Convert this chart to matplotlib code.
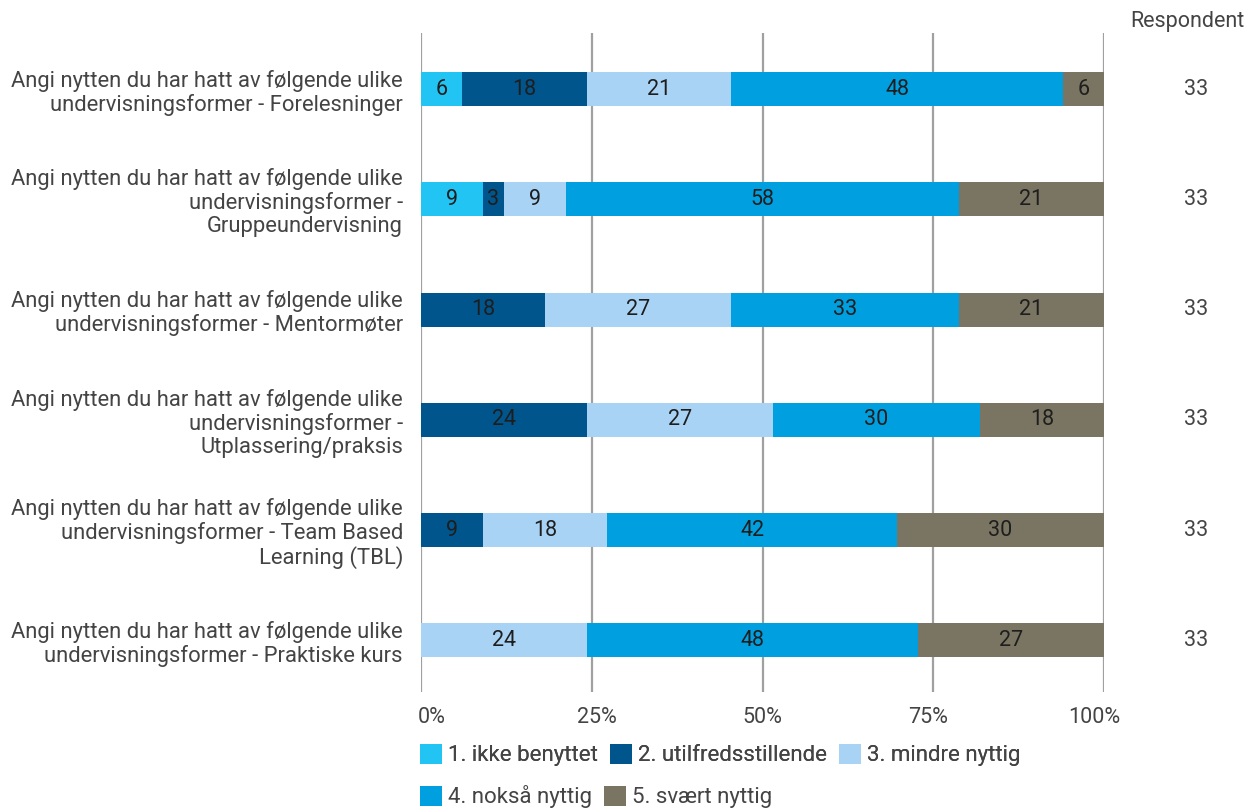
import numpy as np
import matplotlib.pyplot as plt
from matplotlib.patches import Patch

plt.rcParams['font.family'] = ['Roboto', 'DejaVu Sans']

######################################################
# DATI (antall svar av 33 per kategori)

questions = [
    'Angi nytten du har hatt av følgende ulike\nundervisningsformer - Forelesninger',
    'Angi nytten du har hatt av følgende ulike\nundervisningsformer -\nGruppeundervisning',
    'Angi nytten du har hatt av følgende ulike\nundervisningsformer - Mentormøter',
    'Angi nytten du har hatt av følgende ulike\nundervisningsformer -\nUtplassering/praksis',
    'Angi nytten du har hatt av følgende ulike\nundervisningsformer - Team Based\nLearning (TBL)',
    'Angi nytten du har hatt av følgende ulike\nundervisningsformer - Praktiske kurs',
]
categories = ['1. ikke benyttet', '2. utilfredsstillende', '3. mindre nyttig',
              '4. nokså nyttig', '5. svært nyttig']
ikke_benyttet = [2, 3, 0, 0, 0, 0]
utilfredsstillende = [6, 1, 6, 8, 3, 0]
mindre_nyttig = [7, 3, 9, 9, 6, 8]
noksaa_nyttig = [16, 19, 11, 10, 14, 16]
svaert_nyttig = [2, 7, 7, 6, 10, 9]
respondents = [33, 33, 33, 33, 33, 33]
ticks = [0, 25, 50, 75, 100]

colors = ['#22c4f4', '#00558c', '#a8d3f5', '#009fe0', '#7a7562']
FS = 15.5

######################################################
# GRAFICO

fig = plt.figure(figsize=(12.56, 8.11), dpi=100)
ax = fig.add_axes([421 / 1256, 1 - 692 / 811, 683 / 1256, 659 / 811])

series = [ikke_benyttet, utilfredsstillende, mindre_nyttig, noksaa_nyttig, svaert_nyttig]
totals = np.array(respondents, dtype=float)
y = np.arange(len(questions))
left = np.zeros(len(questions))

for vals, col, cat in zip(series, colors, categories):
    pct = np.array(vals) / totals * 100
    ax.barh(y, pct, left=left, height=0.31, color=col, label=cat, zorder=3)
    for yi, l, p in zip(y, left, pct):
        if p > 0:
            ax.text(l + p / 2, yi, f'{p:.0f}', ha='center', va='center',
                    fontsize=FS, color='#1e1e1e', zorder=4)
    left += pct

ax.set_xlim(0, 100)
ax.set_ylim(5.47, -0.51)
# etichette leggermente spostate verso l'interno come nell'originale
ax.set_xticks([1.5 + t * 0.97 for t in ticks])
ax.set_xticklabels([f'{t}%' for t in ticks])
ax.set_yticks(y)
ax.set_yticklabels(questions, fontsize=15.8, color='#444444', linespacing=1.12)
ax.tick_params(axis='x', length=0, pad=11, labelsize=FS, labelcolor='#444444')
ax.tick_params(axis='y', length=0, pad=13)
for t in ticks:
    ax.axvline(t, color='#a0a0a0', lw=1.6, zorder=1)
for s in ax.spines.values():
    s.set_visible(False)

# Colonna respondenti
fig.text(1187 / 1256, 1 - 22 / 811, 'Respondent', ha='center', va='center',
         fontsize=FS, color='#444444')
for yi, n in zip(y, respondents):
    ax.text(1.1347, yi, str(n), transform=ax.get_yaxis_transform(),
            ha='center', va='center', fontsize=FS, color='#444444')

# Legenda su due righe
handles = [Patch(facecolor=c, edgecolor='none') for c in colors]
leg_kw = dict(loc='center left', frameon=False, fontsize=16, handlelength=1.0,
              handleheight=1.0, handletextpad=0.25, columnspacing=0.55,
              labelcolor='#444444', borderaxespad=0, borderpad=0)
leg1 = fig.legend(handles[:3], categories[:3], ncol=3,
                  bbox_to_anchor=(420 / 1256, 1 - 755 / 811), **leg_kw)
fig.legend(handles[3:], categories[3:], ncol=2,
           bbox_to_anchor=(420 / 1256, 1 - 797 / 811), **leg_kw)
fig.add_artist(leg1)

fig.savefig('out.png', dpi=100)
